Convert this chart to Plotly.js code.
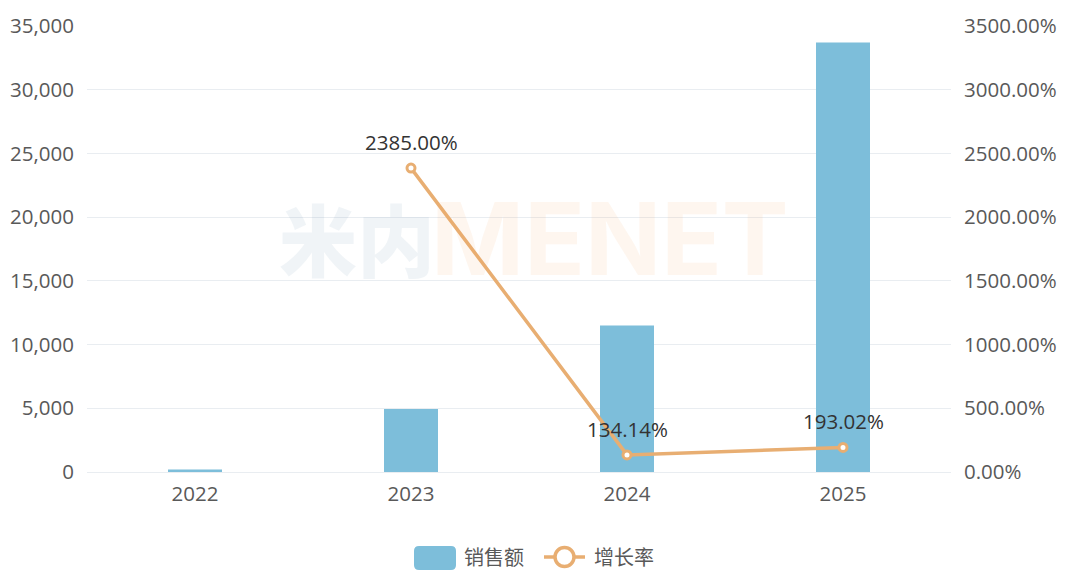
<!DOCTYPE html>
<html><head><meta charset="utf-8">
<script src="https://cdn.plot.ly/plotly-3.0.1.min.js"></script>
<style>html,body{margin:0;padding:0;background:#fff}</style></head>
<body><div id="c" style="width:1080px;height:578px"></div>
<script>
const years=['2022','2023','2024','2025'];
const sales=[200,4950,11500,33700];
const growth=[null,2385,134.14,193.02];
const growthLabels=['','2385.00%','134.14%','193.02%'];
const leftTicks=[0,5000,10000,15000,20000,25000,30000,35000];
const rightTicks=[0,500,1000,1500,2000,2500,3000,3500];
const seriesNames=['销售额','增长率'];
const barColor='#7DBEDA', lineColor='#E8AE72';
const L=87,R=951,T=26,B=472;
const px=x=>(x-L)/(R-L), py=y=>(B-y)/(B-T);
const fam='"Open Sans","Noto Sans CJK SC",sans-serif';
const f={family:fam,size:20.5,color:'#595959'};
const pct=growth.map((v,i)=>v===null?null:{x:i,y:v,text:growthLabels[i],xref:'x',yref:'y2',yshift:26,xanchor:'center',showarrow:false,font:{family:fam,size:20.5,color:'#333'}}).filter(Boolean);
const legendText=(t,x)=>({text:t,xref:'paper',yref:'paper',x:px(x),y:py(556),xanchor:'left',yanchor:'middle',showarrow:false,font:{family:'"Noto Sans CJK SC"',size:20,color:'#595959'}});
Plotly.newPlot('c',[
{type:'bar',name:seriesNames[0],x:years,y:sales,width:0.25,marker:{color:barColor},hoverinfo:'skip'},
{type:'scatter',mode:'lines+markers',name:seriesNames[1],x:years,y:growth,yaxis:'y2',line:{color:lineColor,width:3.5},marker:{size:8,color:'#fff',line:{color:lineColor,width:3}},hoverinfo:'skip'}
],{
width:1080,height:578,paper_bgcolor:'#fff',plot_bgcolor:'#fff',font:f,
margin:{l:L,r:1080-R,t:T,b:578-B},
showlegend:false,
xaxis:{type:'category',tickfont:f,showgrid:false,showline:true,linecolor:'#e9edf1',ticks:'',ticklabelstandoff:3},
yaxis:{range:[0,35000],tickvals:leftTicks,tickformat:',d',tickfont:f,gridcolor:'#e9edf1',zeroline:false,ticks:'',ticklabelstandoff:12},
yaxis2:{range:[0,3500],overlaying:'y',side:'right',tickmode:'array',tickvals:rightTicks,ticktext:rightTicks.map(v=>v.toFixed(2)+'%'),tickfont:f,showgrid:false,zeroline:false,ticks:'',ticklabelstandoff:12},
shapes:[
{type:'path',xref:'paper',yref:'paper',path:`M${px(419)},${py(546)} L${px(451)},${py(546)} Q${px(456)},${py(546)} ${px(456)},${py(551)} L${px(456)},${py(565)} Q${px(456)},${py(570)} ${px(451)},${py(570)} L${px(419)},${py(570)} Q${px(414)},${py(570)} ${px(414)},${py(565)} L${px(414)},${py(551)} Q${px(414)},${py(546)} ${px(419)},${py(546)} Z`,fillcolor:barColor,line:{width:0}},
{type:'line',xref:'paper',yref:'paper',x0:px(544),x1:px(585),y0:py(557),y1:py(557),line:{color:lineColor,width:3.5}},
{type:'circle',xref:'paper',yref:'paper',x0:px(555),x1:px(574),y0:py(547.5),y1:py(566.5),fillcolor:'#fff',line:{color:lineColor,width:3.5}}
],
annotations:[
{text:'米内',xref:'paper',yref:'paper',x:px(357),y:py(237),xanchor:'center',yanchor:'middle',showarrow:false,font:{family:'"Noto Sans CJK SC"',size:78,weight:900,color:'rgba(110,150,180,0.10)'}},
{text:'<b>MENET</b>',xref:'paper',yref:'paper',x:px(610),y:py(238),xanchor:'center',yanchor:'middle',showarrow:false,font:{family:'Inter',size:100,color:'rgba(245,170,100,0.10)'}},
...pct,
legendText(seriesNames[0],462),
legendText(seriesNames[1],592)
]
},{displayModeBar:false,staticPlot:true});
</script></body></html>
